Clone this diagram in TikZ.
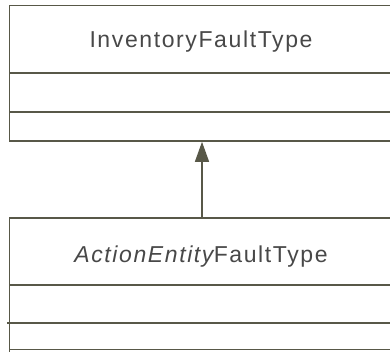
\documentclass[tikz,border=0pt]{standalone}
\usepackage{fontspec}
\setmainfont{Liberation Sans}
\newfontfamily\umlfont[LetterSpace=7]{Liberation Sans}
\usetikzlibrary{arrows.meta}
\definecolor{umlline}{RGB}{88,88,72}
\definecolor{umltext}{RGB}{72,72,72}
\begin{document}
\begin{tikzpicture}[x=1pt,y=-1pt,
  boxline/.style={draw=umlline,line width=1.6pt},
  sepline/.style={draw=umlline,line width=1.4pt},
  lbl/.style={text=umltext,font=\umlfont\fontsize{23}{25}\selectfont,inner sep=0pt,anchor=base},
  genarrow/.style={draw=umlline,line width=1.4pt,-{Triangle[length=20pt,width=14pt,fill=umlline]}}]
\useasboundingbox (0,0) rectangle (390,352);
\fill[white] (0,0) rectangle (390,352);
% top class
\draw[boxline] (400,5.5) -- (9.5,5.5) -- (9.5,141) -- (400,141);
\draw[sepline] (9.5,73) -- (400,73);
\draw[sepline] (9.5,112) -- (400,112);
\node[lbl] (inv) at (201,48) {InventoryFaultType};
% bottom class
\draw[boxline] (400,218) -- (9.5,218) -- (9.5,360);
\draw[sepline] (9.5,285) -- (400,285);
\draw[sepline] (7,323) -- (400,323);
\draw[sepline] (9.5,349.5) -- (400,349.5);
\node[lbl] (act) at (201,262) {\textit{ActionEntity}\kern-2.5pt FaultType};
\coordinate (topbot) at (202,141.8);
\coordinate (bottop) at (202,218);
\draw[genarrow] (bottop) -- (topbot);
\end{tikzpicture}
\end{document}
